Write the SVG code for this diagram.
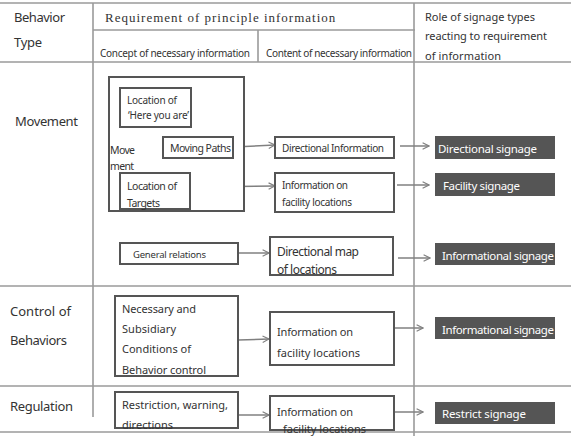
<svg xmlns="http://www.w3.org/2000/svg" width="571" height="436" viewBox="0 0 571 436">
<defs>
<marker id="arr" viewBox="0 0 10 10" refX="9" refY="5" markerWidth="8" markerHeight="8" markerUnits="userSpaceOnUse" orient="auto">
<path d="M1,1 L9,5 L1,9" fill="none" stroke="#808080" stroke-width="1.4"/>
</marker>
</defs>
<style>
text{font-family:"Noto Sans","Open Sans",sans-serif;fill:#333}
.tl{stroke:#9a9a9a;stroke-width:1.6;fill:none}
.bx{fill:#fff;stroke:#555;stroke-width:2}
.dk{fill:#555;stroke:none}
.wt{fill:#fff;font-size:11.5px}
.cn{stroke:#808080;stroke-width:1.5;fill:none;marker-end:url(#arr)}
.lb{font-size:13px}
.sm{font-size:10px}
.md{font-size:10.5px}
.mc{font-size:11px}
</style>
<rect width="571" height="436" fill="#fff"/>
<g id="table">
<line class="tl" x1="0" y1="3" x2="571" y2="3"/>
<line class="tl" x1="93" y1="30" x2="415" y2="30"/>
<line class="tl" x1="0" y1="62" x2="571" y2="62"/>
<line class="tl" x1="0" y1="286" x2="571" y2="286"/>
<line class="tl" x1="0" y1="386" x2="571" y2="386"/>
<line class="tl" x1="0" y1="432" x2="571" y2="432"/>
<line class="tl" x1="93" y1="3" x2="93" y2="417"/>
<line class="tl" x1="258" y1="30" x2="258" y2="62"/>
<line class="tl" x1="414" y1="3" x2="414" y2="436"/>
</g>
<g id="headers">
<text class="lb" x="14" y="22" textLength="51">Behavior</text>
<text class="lb" x="14" y="47" textLength="28">Type</text>
<text x="105" y="22" style="font-family:'Liberation Serif',serif;font-size:13px;letter-spacing:1px">Requirement of principle information</text>
<text class="sm" x="100" y="57" textLength="150">Concept of necessary information</text>
<text class="sm" x="266" y="57" textLength="146">Content of necessary information</text>
<text class="mc" x="425" y="21" textLength="110">Role of signage types</text>
<text class="mc" x="425" y="40" textLength="122">reacting to requirement</text>
<text class="mc" x="425" y="60" textLength="76">of information</text>
<text class="lb" x="15" y="126" textLength="63">Movement</text>
<text class="lb" x="10" y="316" textLength="61">Control of</text>
<text class="lb" x="10" y="345" textLength="57">Behaviors</text>
<text class="lb" x="10" y="411" textLength="63">Regulation</text>
</g>
<g id="connectors">
<line x1="142" y1="127" x2="142" y2="173" stroke="#808080" stroke-width="1.5"/>
<line class="cn" x1="233" y1="147" x2="275" y2="145"/>
<line class="cn" x1="190" y1="187" x2="275" y2="186"/>
<line class="cn" x1="400" y1="146" x2="429" y2="146"/>
<line class="cn" x1="397" y1="185" x2="429" y2="185"/>
<line class="cn" x1="238" y1="253" x2="269" y2="253"/>
<line class="cn" x1="398" y1="258" x2="430" y2="258"/>
<line class="cn" x1="238" y1="340" x2="269" y2="339"/>
<line class="cn" x1="394" y1="328" x2="423" y2="328"/>
<line class="cn" x1="238" y1="415" x2="269" y2="415"/>
<line class="cn" x1="394" y1="412" x2="423" y2="412"/>
</g>
<g id="movement-box"><rect class="bx" x="109" y="77" width="135" height="134"/>
<text class="md" x="110" y="154" textLength="25">Move</text>
<text class="md" x="110" y="170" textLength="24">ment</text></g>
<g id="here"><rect class="bx" x="120" y="88" width="71" height="39"/>
<text class="sm" x="127" y="104" textLength="50">Location of</text>
<text class="sm" x="128" y="119" textLength="61">‘Here you are’</text></g>
<g id="paths"><rect class="bx" x="163" y="137" width="70" height="21"/>
<text class="md" x="170" y="152" textLength="61">Moving Paths</text></g>
<g id="targets"><rect class="bx" x="120" y="173" width="70" height="36"/>
<text class="md" x="127" y="190" textLength="50">Location of</text>
<text class="md" x="127" y="207" textLength="33">Targets</text></g>
<g id="dirinfo"><rect class="bx" x="275" y="137" width="119" height="21"/>
<text class="sm" x="282" y="152" textLength="102">Directional Information</text></g>
<g id="facinfo1"><rect class="bx" x="275" y="173" width="119" height="39"/>
<text class="sm" x="282" y="189" textLength="66">Information  on</text>
<text class="sm" x="282" y="206" textLength="70">facility locations</text></g>
<g id="general"><rect class="bx" x="120" y="243" width="118" height="21"/>
<text x="133" y="258" style="font-size:9.5px" textLength="73">General relations</text></g>
<g id="dirmap"><rect class="bx" x="270" y="237" width="123" height="38"/>
<text x="277" y="256" style="font-size:12px" textLength="82">Directional map</text>
<text x="277" y="274" style="font-size:12px" textLength="60">of locations</text></g>
<g id="conditions"><rect class="bx" x="115" y="296" width="123" height="80"/>
<text class="mc" x="122" y="313" textLength="74">Necessary and</text>
<text class="mc" x="122" y="333" textLength="54">Subsidiary</text>
<text class="mc" x="122" y="353" textLength="69">Conditions of</text>
<text class="mc" x="122" y="374" textLength="84">Behavior control</text></g>
<g id="facinfo2"><rect class="bx" x="270" y="312" width="124" height="53"/>
<text class="mc" x="277" y="336" textLength="76">Information on</text>
<text class="mc" x="277" y="357" textLength="83">facility locations</text></g>
<g id="restriction"><rect class="bx" x="115" y="392" width="123" height="36"/>
<text class="mc" x="122" y="409" textLength="106">Restriction, warning,</text>
<text class="mc" x="122" y="429" textLength="51">directions</text></g>
<g id="facinfo3"><rect class="bx" x="270" y="396" width="124" height="34"/>
<text class="mc" x="277" y="416" textLength="76">Information on</text>
<text class="mc" x="283" y="433" textLength="83">facility locations</text></g>
<g id="sig-directional"><rect class="dk" x="435" y="136" width="120" height="23"/>
<text class="wt" x="438" y="153" textLength="99">Directional signage</text></g>
<g id="sig-facility"><rect class="dk" x="435" y="173" width="120" height="23"/>
<text class="wt" x="443" y="190" textLength="77">Facility signage</text></g>
<g id="sig-info1"><rect class="dk" x="435" y="243" width="120" height="22"/>
<text class="wt" x="442" y="260" textLength="112">Informational signage</text></g>
<g id="sig-info2"><rect class="dk" x="435" y="317" width="120" height="22"/>
<text class="wt" x="442" y="334" textLength="112">Informational signage</text></g>
<g id="sig-restrict"><rect class="dk" x="435" y="402" width="120" height="22"/>
<text class="wt" x="442" y="418" textLength="84">Restrict signage</text></g>
</svg>
